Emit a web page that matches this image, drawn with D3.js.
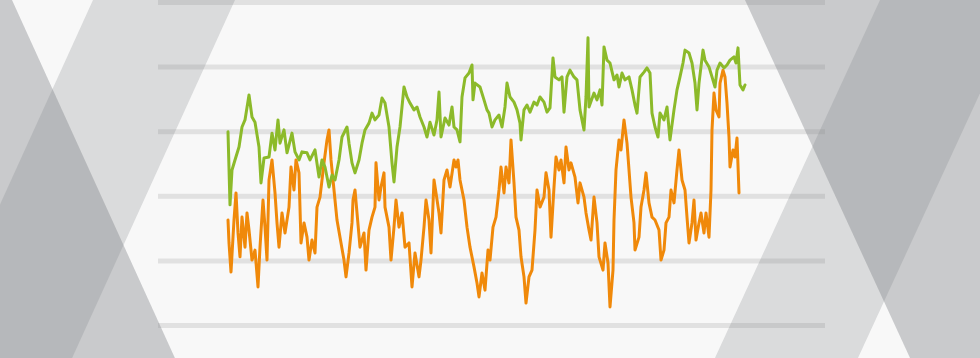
<!DOCTYPE html>
<html lang="en">
<head>
  <meta charset="utf-8">
  <title>Two series</title>
  <script src="https://cdnjs.cloudflare.com/ajax/libs/d3/7.8.5/d3.min.js"></script>
  <style>
    html, body { margin: 0; padding: 0; background: #f8f8f8; overflow: hidden; }
    svg { display: block; }
    .grid .domain { display: none; }
    .grid text { display: none; }
    .grid line { stroke: #e1e1e1; stroke-width: 5; }
    .series { fill: none; stroke-width: 3; stroke-linejoin: round; stroke-linecap: round; }
  </style>
</head>
<body>
<svg id="chart" width="980" height="358"></svg>
<script>
// day index of each reading
var greenDays = [0,2,4,7,11,14,17,21,24,27,31,33,36,41,44,47,50,52,56,59,64,67,71,74,79,82,87,91,94,97,101,104,107,111,114,119,121,124,127,131,134,137,141,144,147,151,154,157,161,164,166,169,172,176,179,182,186,189,192,196,199,202,206,209,211,213,217,221,224,226,229,232,234,237,241,244,245,247,252,256,259,261,264,267,271,274,277,279,282,286,289,292,293,296,299,302,306,309,312,316,319,322,325,327,331,334,336,339,342,346,349,352,356,358,360,361,366,369,372,374,376,379,382,386,389,391,394,397,401,404,407,409,412,416,419,422,424,427,430,432,436,439,442,446,449,452,455,457,461,464,467,469,471,475,477,481,484,487,489,492,496,499,502,506,508,510,512,515,517];
var greenValues = [59.8,37.2,48.0,51.1,55.1,61.3,63.5,71.2,64.4,62.8,55.1,44.0,51.7,52.0,59.4,54.2,63.5,56.3,60.4,53.3,59.4,53.6,51.1,53.6,53.3,51.1,54.2,45.8,51.1,48.9,42.7,46.4,44.9,51.1,58.2,61.3,56.3,50.2,47.1,51.1,56.3,60.4,62.5,65.6,63.5,65.0,70.3,68.7,61.3,50.2,44.3,55.1,61.3,73.7,70.6,68.7,66.6,67.5,64.4,61.3,58.2,62.8,58.8,63.5,72.1,58.2,64.1,61.9,67.5,61.3,60.4,56.7,70.6,76.5,78.0,80.5,69.7,74.9,73.7,69.7,66.6,65.6,61.3,63.5,65.0,61.3,67.5,74.9,70.6,69.0,66.6,62.5,57.3,66.6,68.1,65.9,69.0,68.1,70.6,69.0,65.9,67.2,82.7,76.8,75.9,76.8,65.9,76.8,78.9,76.8,75.9,66.6,60.4,70.6,88.9,67.5,71.8,69.7,72.8,68.1,86.1,82.0,81.1,75.9,77.4,73.7,78.0,75.9,76.8,72.8,68.1,65.6,76.8,78.3,79.6,78.0,65.6,61.3,58.2,65.6,63.5,67.5,57.3,66.6,72.8,76.8,81.1,85.1,84.2,81.1,74.9,66.6,74.9,85.1,82.0,79.9,76.8,73.7,78.9,81.1,79.6,80.5,82.0,83.0,81.1,85.8,74.3,72.8,74.3];

var orangeDays = [0,1,3,6,8,10,12,14,17,19,21,24,27,30,32,35,37,39,41,44,47,49,51,54,57,61,63,66,68,71,73,76,79,81,84,87,89,92,96,99,101,103,106,109,112,116,118,121,124,125,127,129,132,136,138,141,144,147,148,151,153,156,157,161,163,166,168,171,174,177,181,184,187,191,193,196,198,201,203,206,208,211,213,216,219,222,226,228,230,232,236,239,242,246,249,251,254,257,260,262,265,268,271,273,276,278,281,283,286,288,291,293,296,298,301,304,307,309,312,316,318,321,323,326,328,331,333,336,338,341,343,347,350,352,356,358,361,363,366,369,371,375,377,380,382,385,386,388,391,393,396,399,401,403,406,407,411,413,416,418,421,424,427,431,433,436,438,441,443,446,449,451,454,457,459,461,464,466,468,471,473,476,478,481,483,484,486,488,491,492,495,497,499,501,502,505,507,509,511];
var orangeValues = [32.5,25.4,16.4,32.5,40.9,28.5,21.1,33.4,24.1,34.7,29.4,20.1,23.2,11.8,24.1,38.7,30.3,20.1,44.9,51.1,40.9,31.6,24.1,34.7,28.5,36.5,48.9,41.8,51.1,47.1,25.4,31.6,27.2,20.1,26.3,22.3,36.5,39.6,50.2,57.3,60.4,51.1,41.8,32.5,27.2,20.1,14.9,22.3,31.6,38.7,41.8,34.7,24.1,28.5,17.0,29.4,33.4,36.5,50.2,38.7,42.7,47.1,36.5,30.3,20.1,30.3,38.7,30.3,34.7,24.1,25.4,11.8,22.3,14.9,20.1,30.3,38.7,32.5,22.3,44.9,40.9,34.7,28.5,44.9,48.0,42.7,51.1,48.9,51.1,44.9,38.7,30.3,24.1,18.0,13.0,8.7,16.1,10.8,23.2,20.1,30.3,33.4,41.8,48.9,40.9,48.9,44.0,57.3,44.0,33.4,29.4,21.1,14.9,6.8,14.9,17.0,29.4,41.8,36.5,39.6,47.1,41.8,27.2,42.7,52.0,48.0,51.1,44.0,55.1,48.0,50.2,45.8,37.8,44.0,39.6,34.7,29.4,26.3,39.6,31.6,21.1,17.0,25.4,19.2,5.6,17.0,32.5,48.0,57.3,54.2,63.5,56.3,48.0,39.6,31.6,23.2,27.2,36.5,41.8,47.1,37.8,33.4,32.5,29.4,20.1,23.2,31.6,33.4,41.8,37.8,48.0,54.2,44.9,41.8,33.4,25.4,31.6,38.7,26.3,31.6,34.7,28.5,34.7,27.2,41.8,60.4,71.8,66.6,64.4,74.9,78.9,76.8,68.7,58.2,48.9,54.2,52.0,57.9,40.9];

var gridTicks = [0, 20, 40, 60, 80, 100];

// diagonal bands of the backdrop: [top-left x, top-right x, drift per px of height]
var bandsBack = [[-290, 12, 0.455], [745, 1120, 0.461]];
var bandsFront = [[93, 235, -0.455], [880, 1023, -0.461]];

var svg = d3.select("#chart");
var W = 980, H = 358;

var x = d3.scaleLinear().domain([0, 517]).range([228, 745]);
var y = d3.scaleLinear().domain([0, 100]).range([325, 2]);

// gridlines
svg.append("g")
  .attr("class", "grid")
  .attr("transform", "translate(158,0)")
  .call(d3.axisRight(y).tickValues(gridTicks).tickSize(825 - 158).tickFormat(""));

function bandPath(b) {
  var y0 = -10, y1 = H + 10;
  var pts = [[b[0] + b[2] * y0, y0], [b[1] + b[2] * y0, y0],
             [b[1] + b[2] * y1, y1], [b[0] + b[2] * y1, y1]];
  return d3.line()(pts) + "Z";
}

svg.append("g").selectAll("path").data(bandsBack).enter()
  .append("path")
  .attr("d", bandPath)
  .attr("fill", "rgb(130,132,138)")
  .attr("fill-opacity", 0.4);

svg.append("g").selectAll("path").data(bandsFront).enter()
  .append("path")
  .attr("d", bandPath)
  .attr("fill", "rgb(130,132,138)")
  .attr("fill-opacity", 0.255);

var line = d3.line()
  .x(function (d) { return x(d[0]); })
  .y(function (d) { return y(d[1]); });

svg.append("path")
  .attr("class", "series")
  .attr("stroke", "#f0890a")
  .attr("d", line(d3.zip(orangeDays, orangeValues)));

svg.append("path")
  .attr("class", "series")
  .attr("stroke", "#8cba2a")
  .attr("d", line(d3.zip(greenDays, greenValues)));
</script>
</body>
</html>
